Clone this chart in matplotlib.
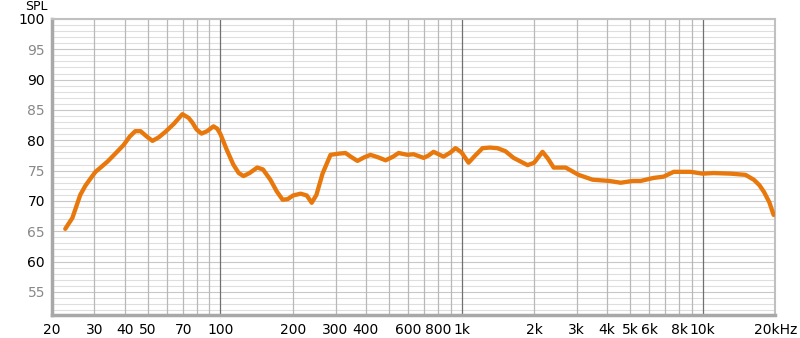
import matplotlib
matplotlib.use('Agg')
import matplotlib.pyplot as plt

# frequency response (Hz, dB SPL)
freq = [22.7, 24.3, 26.2, 27.5, 28.9, 30.3, 31.8, 34.0, 36.0, 39.6, 42.0, 44.3,
        46.6, 49.5, 52.2, 55.5, 59.1, 64.0, 69.5, 73.7, 76.5, 79.5, 83.4, 88.0,
        93.5, 97.0, 100, 106, 113, 119, 124.6, 132, 142, 150, 161, 171, 181,
        190, 200, 215, 228, 239, 250, 265, 286, 310, 330, 350, 370, 395, 419,
        450, 484, 520, 548, 597, 632, 696, 730, 765, 842, 900, 944, 1000, 1069,
        1140, 1222, 1310, 1409, 1520, 1643, 1879, 2000, 2167, 2280, 2410, 2704,
        3058, 3497, 3776, 4100, 4571, 5128, 5532, 6266, 6886, 7586, 8913, 10000,
        11100, 13060, 15060, 16300, 17200, 17960, 18900, 19700]
spl = [65.4, 67.2, 71.0, 72.5, 73.7, 74.8, 75.5, 76.5, 77.5, 79.2, 80.6, 81.5,
       81.5, 80.6, 79.9, 80.5, 81.4, 82.7, 84.3, 83.7, 82.9, 81.8, 81.1, 81.5,
       82.3, 81.9, 81.0, 78.5, 76.0, 74.6, 74.1, 74.6, 75.5, 75.2, 73.5, 71.6,
       70.2, 70.3, 70.9, 71.2, 70.9, 69.7, 71.0, 74.5, 77.6, 77.8, 77.9, 77.2,
       76.6, 77.2, 77.6, 77.2, 76.7, 77.3, 77.9, 77.6, 77.7, 77.1, 77.5, 78.1,
       77.3, 78.0, 78.7, 78.0, 76.3, 77.5, 78.7, 78.8, 78.7, 78.2, 77.1, 75.9,
       76.3, 78.1, 77.0, 75.5, 75.5, 74.3, 73.5, 73.4, 73.3, 73.0, 73.3, 73.3,
       73.8, 74.0, 74.8, 74.8, 74.5, 74.6, 74.5, 74.3, 73.5, 72.6, 71.5, 69.8,
       67.7]

ytick_vals = [55, 60, 65, 70, 75, 80, 85, 90, 95, 100]
xtick_vals = [20, 30, 40, 50, 70, 100, 200, 300, 400, 600, 800, 1000,
              2000, 3000, 4000, 5000, 6000, 8000, 10000, 20000]
xtick_labels = ['20', '30', '40', '50', '70', '100', '200', '300', '400', '600',
                '800', '1k', '2k', '3k', '4k', '5k', '6k', '8k', '10k', '20kHz']

fig = plt.figure(figsize=(8, 3.38), dpi=100)
ax = fig.add_axes([0.065, 0.068, 0.904, 0.876])
ax.set_xscale('log')
ax.set_xlim(20, 20000)
ax.set_ylim(51.2, 100)

# grid
for d in range(52, 101):
    c = '#c8c8c8' if d % 5 == 0 else '#dedede'
    ax.axhline(d, color=c, lw=0.8, zorder=0)
for dec in [10, 100, 1000, 10000]:
    for m in range(1, 10):
        f = dec * m
        if 20 <= f <= 20000:
            c = '#707070' if m == 1 else '#b8b8b8'
            ax.axvline(f, color=c, lw=0.9, zorder=0)

ax.plot(freq, spl, color='#e8780c', lw=3.1, solid_capstyle='round',
        solid_joinstyle='round', zorder=3)

ax.set_xticks(xtick_vals)
ax.set_xticklabels(xtick_labels)
ax.xaxis.set_minor_locator(matplotlib.ticker.NullLocator())
ax.set_yticks(ytick_vals)
ax.set_yticklabels([str(v) for v in ytick_vals])
for lbl, v in zip(ax.get_yticklabels(), ytick_vals):
    lbl.set_color('#000000' if v % 10 == 0 else '#888888')
ax.tick_params(length=0, labelsize=10, pad=5)
ax.tick_params(axis='x', pad=6)

for side in ['left', 'bottom']:
    ax.spines[side].set_color('#a8a8a8')
    ax.spines[side].set_linewidth(2.5)
for side in ['top', 'right']:
    ax.spines[side].set_color('#c0c0c0')
    ax.spines[side].set_linewidth(1.5)

fig.text(0.046, 0.982, 'SPL', fontsize=9, ha='center', va='center')

fig.savefig('out.png', dpi=100)
